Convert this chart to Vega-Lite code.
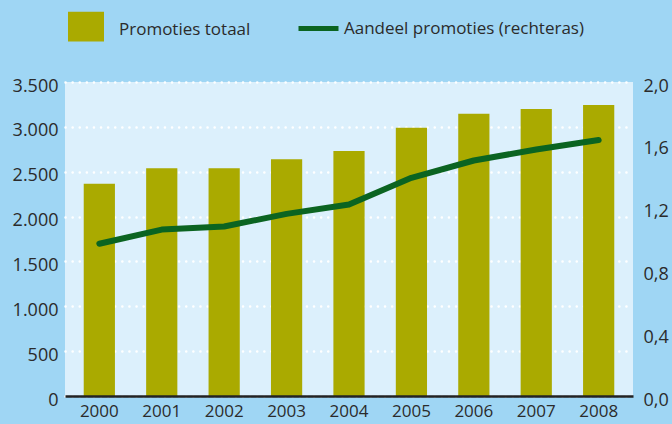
{
  "$schema": "https://vega.github.io/schema/vega-lite/v6.json",
  "autosize": "none",
  "width": 568,
  "height": 314,
  "padding": {"left": 65, "top": 82, "right": 39, "bottom": 28},
  "background": "#9fd6f4",
  "config": {
    "locale": {"number": {"decimal": ",", "thousands": ".", "grouping": [3], "currency": ["€", ""]}},
    "view": {"fill": "#dcf0fc", "stroke": null},
    "font": "Open Sans",
    "axis": {"labelFont": "Open Sans", "labelFontSize": 18, "labelColor": "#2b2b2b", "ticks": false, "domain": false, "title": null},
    "legend": {"labelFont": "Open Sans", "labelFontSize": 17, "labelColor": "#2b2b2b", "padding": 0, "title": null, "labelLimit": 400}
  },
  "data": {
    "values": [
      {"year": "2000", "promoties": 2365, "aandeel": 0.97},
      {"year": "2001", "promoties": 2540, "aandeel": 1.06},
      {"year": "2002", "promoties": 2540, "aandeel": 1.08},
      {"year": "2003", "promoties": 2640, "aandeel": 1.16},
      {"year": "2004", "promoties": 2730, "aandeel": 1.22},
      {"year": "2005", "promoties": 2990, "aandeel": 1.39},
      {"year": "2006", "promoties": 3145, "aandeel": 1.50},
      {"year": "2007", "promoties": 3200, "aandeel": 1.57},
      {"year": "2008", "promoties": 3245, "aandeel": 1.63}
    ]
  },
  "encoding": {
    "x": {
      "field": "year",
      "type": "ordinal",
      "scale": {"paddingInner": 0.5, "paddingOuter": 0.3},
      "axis": {"labelAngle": 0, "domain": true, "domainColor": "#222222", "domainWidth": 2.5, "labelPadding": 7, "labelFontSize": 17, "zindex": 1, "grid": false}
    }
  },
  "layer": [
    {
      "mark": {"type": "bar"},
      "encoding": {
        "y": {
          "field": "promoties",
          "type": "quantitative",
          "scale": {"domain": [0, 3500], "nice": false},
          "axis": {"orient": "left", "values": [0, 500, 1000, 1500, 2000, 2500, 3000, 3500], "format": ",d", "grid": true, "gridColor": "#ffffff", "gridDash": [0.1, 7], "gridCap": "round", "gridWidth": 2.5, "labelPadding": 7, "labelOffset": 4, "zindex": 0}
        },
        "color": {
          "datum": "Promoties totaal",
          "scale": {"range": ["#aaaa00"]},
          "legend": {"orient": "none", "legendX": 3, "legendY": -70, "symbolType": "M-1,-1.02L1,-1.02L1,0.64L-1,0.64Z", "symbolSize": 1296, "symbolStrokeWidth": 0, "symbolOpacity": 1, "labelOffset": 15}
        }
      }
    },
    {
      "mark": {"type": "line", "strokeWidth": 6, "strokeCap": "round", "strokeJoin": "round"},
      "encoding": {
        "y": {
          "field": "aandeel",
          "type": "quantitative",
          "scale": {"domain": [0, 2], "nice": false},
          "axis": {"orient": "right", "values": [0, 0.4, 0.8, 1.2, 1.6, 2.0], "format": ".1f", "grid": false, "labelPadding": 10, "labelOffset": 4}
        },
        "stroke": {
          "datum": "Aandeel promoties (rechteras)",
          "scale": {"range": ["#0b6421"]},
          "legend": {"orient": "none", "legendX": 231, "legendY": -76, "symbolType": "stroke", "symbolSize": 1600, "symbolStrokeWidth": 5, "labelOffset": 3}
        }
      }
    }
  ],
  "resolve": {"scale": {"y": "independent"}}
}
